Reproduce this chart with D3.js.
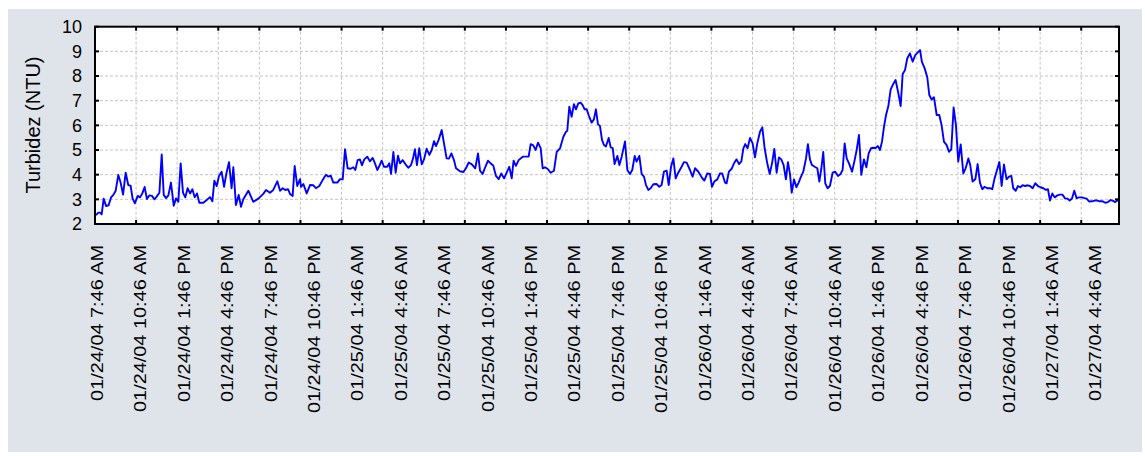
<!DOCTYPE html>
<html>
<head>
<meta charset="utf-8">
<script src="https://cdn.jsdelivr.net/npm/d3@7/dist/d3.min.js"></script>
<style>
  body { margin: 0; background: #ffffff; }
  svg { display: block; }
  text { font-family: "Liberation Sans", Arial, sans-serif; fill: #000; }
</style>
</head>
<body>
<svg id="chart" width="1145" height="456"></svg>
<script>
// Hours elapsed since 01/24/04 7:46 AM for each turbidity reading
const hours = [
  0.07,0.23,0.35,0.46,0.60,0.76,0.94,1.11,1.27,1.43,1.61,1.77,1.94,2.12,2.30,2.46,2.60,2.76,2.95,3.11,
  3.27,3.43,3.59,3.75,3.94,4.10,4.26,4.45,4.61,4.75,4.91,5.07,5.25,5.44,5.60,5.76,5.92,6.08,6.24,6.40,
  6.57,6.73,6.89,7.05,7.21,7.49,7.72,7.95,8.11,8.25,8.41,8.57,8.75,8.92,9.08,9.26,9.44,9.56,9.74,9.93,
  10.09,10.25,10.60,10.94,11.29,11.63,11.82,12.09,12.32,12.60,12.79,12.97,13.15,13.34,13.48,13.66,13.80,13.98,14.17,
  14.24,14.40,14.63,14.86,15.09,15.27,15.50,15.73,15.96,16.13,16.29,16.47,16.75,16.93,17.12,17.28,17.46,17.67,17.85,17.99,
  18.15,18.31,18.45,18.61,18.82,19.00,19.19,19.35,19.51,19.65,19.81,19.97,20.20,20.34,20.46,20.62,20.78,20.94,21.08,21.26,
  21.45,21.65,21.84,21.98,22.11,22.25,22.41,22.58,22.74,22.92,23.11,23.27,23.43,23.57,23.75,23.96,24.12,24.30,24.46,24.63,
  24.81,24.95,25.22,25.46,25.64,25.82,26.03,26.28,26.47,26.61,26.79,26.98,27.16,27.34,27.53,27.71,27.90,28.08,28.27,28.45,
  28.63,28.80,28.93,29.09,29.28,29.56,29.83,29.97,30.11,30.29,30.45,30.62,30.80,30.94,31.10,31.31,31.49,31.72,31.91,
  32.14,32.37,32.55,32.64,32.78,32.94,33.10,33.24,33.40,33.56,33.70,33.84,33.98,34.14,34.32,34.48,34.62,34.76,34.90,35.04,
  35.18,35.31,35.50,35.64,35.78,35.91,36.10,36.24,36.40,36.63,36.79,36.97,37.13,37.30,37.43,37.62,37.78,37.94,38.08,38.24,
  38.40,38.59,38.82,39.00,39.16,39.32,39.51,39.65,39.81,39.97,40.13,40.31,40.54,40.70,40.89,41.12,41.30,41.47,41.70,41.93,
  42.11,42.32,42.50,42.64,42.80,43.01,43.19,43.35,43.54,43.65,43.81,44.00,44.16,44.34,44.51,44.67,44.81,44.94,45.10,45.27,
  45.45,45.61,45.77,45.96,46.12,46.28,46.46,46.63,46.79,46.95,47.11,47.27,47.43,47.59,47.75,47.89,48.03,48.15,48.31,48.47,
  48.63,48.77,48.95,49.14,49.27,49.41,49.55,49.74,49.92,50.06,50.20,50.33,50.47,50.63,50.79,50.98,51.16,51.35,51.53,
  51.67,51.81,51.95,52.13,52.32,52.50,52.64,52.80,52.96,53.14,53.31,53.47,53.63,53.79,53.95,54.11,54.25,54.39,54.53,54.67,
  54.83,54.99,55.17,55.33,55.52,55.68,55.82,55.98,56.14,56.32,56.51,56.69,56.85,57.02,57.15,57.34,57.52,57.66,57.82,57.98,
  58.17,58.35,58.51,58.67,58.86,59.02,59.18,59.34,59.50,59.66,59.83,60.01,60.17,60.36,60.49,60.65,60.84,61.00,61.16,61.32,
  61.48,61.67,61.85,62.01,62.17,62.34,62.50,62.66,62.82,63.00,63.17,63.33,63.46,63.63,63.79,63.95,64.11,64.29,64.46,64.62,
  64.80,64.99,65.17,65.35,65.54,65.72,65.86,66.00,66.16,66.32,66.51,66.69,66.87,67.04,67.20,67.36,67.52,67.68,67.84,68.03,
  68.21,68.39,68.53,68.72,68.90,69.09,69.27,69.45,69.64,69.82,70.01,70.19,70.33,70.51,70.70
];

// Turbidity readings (NTU)
const ntu = [
  2.36,2.46,2.46,2.39,3.03,2.73,2.76,3.08,3.18,3.35,3.99,3.68,3.19,4.08,3.58,3.55,3.03,2.84,3.14,3.08,
  3.24,3.50,3.01,3.16,3.14,3.00,3.11,3.27,4.82,3.18,3.05,3.16,3.68,2.74,3.04,2.90,4.46,3.27,3.08,3.45,
  3.24,3.41,3.08,3.24,2.86,2.86,2.97,3.09,2.92,3.76,3.54,3.95,4.12,3.51,4.05,4.51,3.45,4.30,2.77,3.18,
  2.70,3.00,3.35,2.90,3.03,3.22,3.38,3.27,3.38,3.73,3.35,3.45,3.38,3.41,3.22,3.14,4.35,3.54,3.82,
  3.51,3.62,3.24,3.58,3.57,3.45,3.54,3.78,4.00,3.92,3.96,3.68,3.68,3.82,3.81,5.03,4.26,4.24,4.30,4.19,
  4.59,4.62,4.38,4.62,4.73,4.54,4.68,4.46,4.19,4.35,4.57,4.32,4.32,4.46,4.03,4.92,4.08,4.77,4.46,4.59,
  4.43,4.28,4.39,4.66,5.03,4.39,5.07,4.42,4.62,5.05,4.80,5.00,5.36,5.16,5.41,5.81,5.27,4.66,4.65,4.86,
  4.59,4.26,4.14,4.11,4.26,4.49,4.43,4.26,4.86,4.16,4.03,4.32,4.57,4.46,4.36,3.95,3.82,4.05,3.85,4.08,
  4.32,3.85,4.57,4.36,4.59,4.73,4.73,4.73,5.24,5.19,5.00,5.30,5.08,4.26,4.30,4.22,4.08,4.16,4.92,
  5.07,5.54,5.74,5.78,6.76,6.35,6.86,6.65,6.89,6.92,6.82,6.65,6.65,6.38,6.11,6.24,6.65,6.05,5.97,5.41,
  5.20,5.14,5.49,5.11,5.08,4.43,4.76,4.39,4.73,5.35,4.19,4.03,4.19,4.76,4.53,4.76,4.03,3.92,3.58,3.38,
  3.45,3.61,3.62,3.51,3.58,4.12,4.16,3.58,4.32,4.66,3.85,4.08,4.32,4.51,4.49,4.19,3.92,4.26,4.12,3.89,
  3.76,4.05,4.03,3.51,3.72,3.81,4.05,4.05,3.68,3.65,4.12,4.24,4.46,4.62,4.43,4.54,5.07,5.24,5.07,5.49,
  5.27,4.70,5.27,5.74,5.92,5.07,4.46,4.03,4.46,5.04,4.08,4.70,4.62,4.39,3.81,4.51,4.03,3.27,3.81,3.49,
  3.68,3.89,4.12,4.66,5.24,4.62,4.39,4.32,4.26,3.72,4.26,4.92,3.65,3.45,3.54,4.08,4.12,3.95,4.03,
  4.20,5.27,4.66,4.43,4.12,4.59,5.00,5.61,3.99,4.62,4.30,4.86,5.07,5.09,5.08,5.16,5.00,5.34,5.95,6.42,
  6.78,7.46,7.68,7.84,7.30,6.78,8.08,8.24,8.72,8.92,8.58,8.85,8.95,9.05,8.57,8.31,7.95,7.23,7.05,7.14,
  6.42,6.42,6.01,5.34,5.20,4.93,5.03,6.73,6.01,4.53,5.23,4.05,4.26,4.66,4.39,3.72,3.81,4.43,3.68,3.41,
  3.51,3.45,3.45,3.41,3.85,4.19,4.51,3.54,4.41,3.81,3.92,3.95,3.45,3.35,3.54,3.49,3.57,3.54,3.57,3.54,
  3.45,3.65,3.54,3.49,3.45,3.38,3.41,2.95,3.24,3.08,3.16,3.19,3.19,3.04,3.03,2.95,3.03,3.35,3.05,3.08,
  3.08,3.05,3.03,2.91,2.92,2.95,2.95,2.92,2.92,2.86,2.89,2.97,2.95,2.89,2.97
];

// Time-axis labels, one every three hours
const timeLabels = [
  "01/24/04 7:46 AM","01/24/04 10:46 AM","01/24/04 1:46 PM","01/24/04 4:46 PM",
  "01/24/04 7:46 PM","01/24/04 10:46 PM","01/25/04 1:46 AM","01/25/04 4:46 AM",
  "01/25/04 7:46 AM","01/25/04 10:46 AM","01/25/04 1:46 PM","01/25/04 4:46 PM",
  "01/25/04 7:46 PM","01/25/04 10:46 PM","01/26/04 1:46 AM","01/26/04 4:46 AM",
  "01/26/04 7:46 AM","01/26/04 10:46 AM","01/26/04 1:46 PM","01/26/04 4:46 PM",
  "01/26/04 7:46 PM","01/26/04 10:46 PM","01/27/04 1:46 AM","01/27/04 4:46 AM"
];
const labelHours = [0,3,6,9,12,15,18,21,24,27,30,33,36,39,42,45,48,51,54,57,60,63,66,69];

// Value axis ticks
const yTicks = [2,3,4,5,6,7,8,9,10];

// Vertical grid spacing along the time axis (hours)
const gridStep = 2.84;

const svg = d3.select("#chart");
const plot = { left: 95, right: 1119, top: 26.7, bottom: 224 };

const x = d3.scaleLinear().domain([0, 70.77]).range([plot.left, plot.right]);
const y = d3.scaleLinear().domain([2, 10]).range([plot.bottom, plot.top]);

// panel background
svg.append("rect").attr("x", 8).attr("y", 9).attr("width", 1134).attr("height", 443)
  .attr("fill", "#dfe3ea");
svg.append("rect").attr("x", plot.left).attr("y", plot.top)
  .attr("width", plot.right - plot.left).attr("height", plot.bottom - plot.top)
  .attr("fill", "#ffffff");

const gridX = d3.range(1, 25).map(k => k * gridStep);
const gridY = yTicks.filter(v => v > 2 && v < 10);

const grid = svg.append("g").attr("stroke", "#c4c4c4").attr("stroke-width", 1)
  .attr("stroke-dasharray", "3,2").attr("fill", "none");
grid.selectAll("line.gx").data(gridX).join("line").attr("class", "gx")
  .attr("x1", d => x(d)).attr("x2", d => x(d)).attr("y1", plot.top).attr("y2", plot.bottom);
grid.selectAll("line.gy").data(gridY).join("line").attr("class", "gy")
  .attr("x1", plot.left).attr("x2", plot.right).attr("y1", d => y(d)).attr("y2", d => y(d));

// series line, clipped to the plot frame
svg.append("clipPath").attr("id", "clip").append("rect")
  .attr("x", plot.left).attr("y", plot.top)
  .attr("width", plot.right - plot.left).attr("height", plot.bottom - plot.top);

const series = hours.map((h, i) => ({ h, v: ntu[i] }));
const line = d3.line().x(d => x(d.h)).y(d => y(d.v));
svg.append("path").datum(series).attr("clip-path", "url(#clip)")
  .attr("d", line).attr("fill", "none").attr("stroke", "#0000ff")
  .attr("stroke-width", 1.9).attr("stroke-linejoin", "round");

// frame
svg.append("rect").attr("x", plot.left).attr("y", plot.top)
  .attr("width", plot.right - plot.left).attr("height", plot.bottom - plot.top)
  .attr("fill", "none").attr("stroke", "#000").attr("stroke-width", 2);

// inward tick marks on all four sides
const tickLen = 4;
const ticks = svg.append("g").attr("stroke", "#000").attr("stroke-width", 2);
const xTickVals = [0].concat(gridX);
ticks.selectAll("line.tb").data(xTickVals).join("line").attr("class", "tb")
  .attr("x1", d => x(d)).attr("x2", d => x(d)).attr("y1", plot.bottom).attr("y2", plot.bottom - tickLen);
ticks.selectAll("line.tt").data(xTickVals).join("line").attr("class", "tt")
  .attr("x1", d => x(d)).attr("x2", d => x(d)).attr("y1", plot.top).attr("y2", plot.top + tickLen);
ticks.selectAll("line.tl").data(yTicks).join("line").attr("class", "tl")
  .attr("x1", plot.left).attr("x2", plot.left + tickLen).attr("y1", d => y(d)).attr("y2", d => y(d));
ticks.selectAll("line.tr").data(yTicks).join("line").attr("class", "tr")
  .attr("x1", plot.right).attr("x2", plot.right - tickLen).attr("y1", d => y(d)).attr("y2", d => y(d));

// value axis labels
svg.append("g").selectAll("text").data(yTicks).join("text")
  .attr("x", 82).attr("y", d => y(d)).attr("dy", "0.35em")
  .attr("text-anchor", "end").attr("font-size", 18).text(d => d);

svg.append("text")
  .attr("transform", "translate(33,125) rotate(-90)")
  .attr("text-anchor", "middle").attr("dy", "0.35em")
  .attr("font-size", 20).text("Turbidez (NTU)");

// time axis labels
svg.append("g").selectAll("text").data(timeLabels).join("text")
  .attr("transform", (d, i) => `translate(${x(labelHours[i]) + 2},245) rotate(-90) scale(1.17,1)`)
  .attr("text-anchor", "end").attr("dy", "0.35em")
  .attr("font-size", 17).text(d => d);
</script>
</body>
</html>
